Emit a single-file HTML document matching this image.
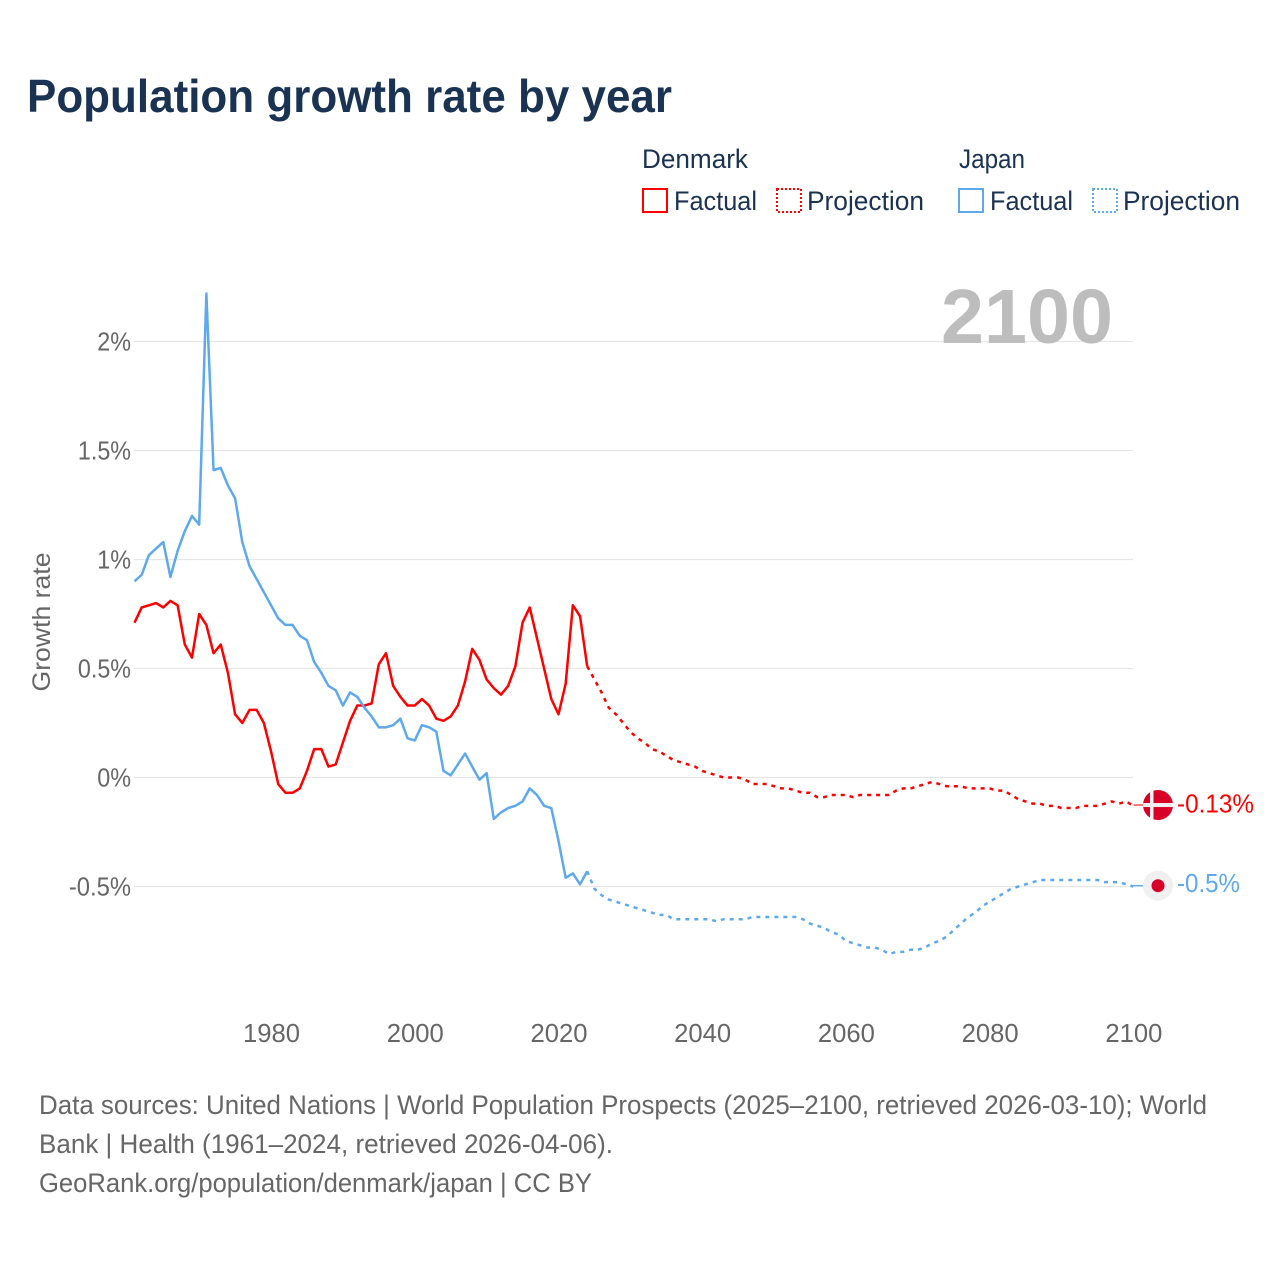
<!DOCTYPE html>
<html lang="en">
<head>
<meta charset="utf-8">
<title>Population growth rate by year</title>
<style>
html,body{margin:0;padding:0;background:#fff;}
svg{display:block;font-family:"Liberation Sans",sans-serif;}
</style>
</head>
<body>
<svg id="chart" width="1280" height="1280" viewBox="0 0 1280 1280" xmlns="http://www.w3.org/2000/svg">
<rect x="0" y="0" width="1280" height="1280" fill="#fff"/>
<text x="27" y="112" font-size="46" font-weight="700" fill="#1a3353" textLength="645" lengthAdjust="spacingAndGlyphs">Population growth rate by year</text>

<g font-size="27" fill="#1a3353">
<text x="642" y="168" textLength="106" lengthAdjust="spacingAndGlyphs">Denmark</text>
<text x="959" y="168" textLength="66" lengthAdjust="spacingAndGlyphs">Japan</text>
<rect x="643" y="189" width="24" height="23" fill="none" stroke="#ff0000" stroke-width="2"/>
<text x="674" y="210" textLength="83" lengthAdjust="spacingAndGlyphs">Factual</text>
<rect x="777" y="189" width="24" height="23" fill="none" stroke="#ff0000" stroke-width="2" stroke-dasharray="2 2"/>
<text x="807" y="210" textLength="117" lengthAdjust="spacingAndGlyphs">Projection</text>
<rect x="959" y="189" width="24" height="23" fill="none" stroke="#5ea9ee" stroke-width="2"/>
<text x="990" y="210" textLength="83" lengthAdjust="spacingAndGlyphs">Factual</text>
<rect x="1093" y="189" width="24" height="23" fill="none" stroke="#5ea9ee" stroke-width="2" stroke-dasharray="2 2"/>
<text x="1123" y="210" textLength="117" lengthAdjust="spacingAndGlyphs">Projection</text>
</g>

<g id="grid"></g>
<g id="yticks"></g>
<g id="xticks"></g>
<text transform="translate(50,622) rotate(-90)" text-anchor="middle" font-size="25" fill="#666" textLength="139" lengthAdjust="spacingAndGlyphs">Growth rate</text>
<text x="941" y="343" font-size="77" font-weight="700" fill="#bdbdbd" textLength="172" lengthAdjust="spacingAndGlyphs">2100</text>

<g id="series"></g>
<g id="markers"></g>

<g font-size="27" fill="#666">
<text x="39" y="1114" textLength="1168" lengthAdjust="spacingAndGlyphs">Data sources: United Nations | World Population Prospects (2025–2100, retrieved 2026-03-10); World</text>
<text x="39" y="1153" textLength="574" lengthAdjust="spacingAndGlyphs">Bank | Health (1961–2024, retrieved 2026-04-06).</text>
<text x="39" y="1192" textLength="553" lengthAdjust="spacingAndGlyphs">GeoRank.org/population/denmark/japan | CC BY</text>
</g>
</svg>

<script>
const factualStartYear = 1961;
const projectionStartYear = 2024;
const yTickValues = [2, 1.5, 1, 0.5, 0, -0.5];
const yTickLabels = ["2%", "1.5%", "1%", "0.5%", "0%", "-0.5%"];
const xTickYears = [1980, 2000, 2020, 2040, 2060, 2080, 2100];

const denmarkFactual = [0.71,0.78,0.79,0.80,0.78,0.81,0.79,0.61,0.55,0.75,0.70,0.57,0.61,0.48,0.29,0.25,0.31,0.31,0.25,0.12,-0.03,-0.07,-0.07,-0.05,0.03,0.13,0.13,0.05,0.06,0.16,0.26,0.33,0.33,0.34,0.52,0.57,0.42,0.37,0.33,0.33,0.36,0.33,0.27,0.26,0.28,0.33,0.44,0.59,0.54,0.45,0.41,0.38,0.42,0.51,0.71,0.78,0.64,0.50,0.36,0.29,0.43,0.79,0.74,0.51];
const denmarkProjection = [
  0.51,0.45,0.39,0.32,0.29,0.25,
  0.21,0.18,0.16,0.13,0.12,0.10,0.08,0.07,0.06,0.05,
  0.03,0.02,0.01,0.00,0.00,0.00,-0.01,-0.03,-0.03,-0.03,
  -0.04,-0.05,-0.05,-0.06,-0.07,-0.07,-0.09,-0.09,-0.08,-0.08,
  -0.08,-0.09,-0.08,-0.08,-0.08,-0.08,-0.08,-0.06,-0.05,-0.05,
  -0.04,-0.03,-0.02,-0.03,-0.04,-0.04,-0.04,-0.05,-0.05,-0.05,
  -0.05,-0.06,-0.06,-0.08,-0.10,-0.11,-0.12,-0.12,-0.13,-0.13,
  -0.14,-0.14,-0.14,-0.13,-0.13,-0.13,-0.12,-0.11,-0.12,-0.11,
  -0.13
];
const japanFactual = [0.90,0.93,1.02,1.05,1.08,0.92,1.04,1.13,1.20,1.16,2.22,1.41,1.42,1.34,1.28,1.08,0.97,0.91,0.85,0.79,0.73,0.70,0.70,0.65,0.63,0.53,0.48,0.42,0.40,0.33,0.39,0.37,0.32,0.28,0.23,0.23,0.24,0.27,0.18,0.17,0.24,0.23,0.21,0.03,0.01,0.06,0.11,0.05,-0.01,0.02,-0.19,-0.16,-0.14,-0.13,-0.11,-0.05,-0.08,-0.13,-0.14,-0.29,-0.46,-0.44,-0.49,-0.43];
const japanProjection = [
  -0.43,-0.51,-0.54,-0.56,-0.57,-0.58,
  -0.59,-0.60,-0.61,-0.62,-0.63,-0.63,-0.65,-0.65,-0.65,-0.65,
  -0.65,-0.65,-0.66,-0.65,-0.65,-0.65,-0.65,-0.64,-0.64,-0.64,
  -0.64,-0.64,-0.64,-0.64,-0.65,-0.67,-0.68,-0.69,-0.71,-0.72,
  -0.75,-0.76,-0.77,-0.78,-0.78,-0.79,-0.81,-0.80,-0.80,-0.79,
  -0.79,-0.78,-0.76,-0.75,-0.73,-0.70,-0.67,-0.64,-0.62,-0.59,
  -0.57,-0.55,-0.53,-0.51,-0.50,-0.49,-0.48,-0.47,-0.47,-0.47,
  -0.47,-0.47,-0.47,-0.47,-0.47,-0.47,-0.48,-0.48,-0.48,-0.49,
  -0.50
];

const denmarkColor = "#ff0000";
const japanColor = "#5ea9ee";
const svgNS = "http://www.w3.org/2000/svg";

function xScale(year) { return 134.5 + (year - 1961) * 7.186; }
function yScale(value) { return 777.5 - value * 218; }

function make(tag, attrs, parent) {
  const el = document.createElementNS(svgNS, tag);
  for (const k in attrs) el.setAttribute(k, attrs[k]);
  parent.appendChild(el);
  return el;
}
function labelWidth(s) {
  let w = 0;
  for (const c of s) w += c === "%" ? 19.5 : c === "." ? 5 : c === "-" ? 9 : 14.3;
  return w;
}
function linePoints(startYear, values) {
  return values.map((v, i) => xScale(startYear + i).toFixed(2) + "," + yScale(v).toFixed(2)).join(" ");
}

const gridGroup = document.getElementById("grid");
const yGroup = document.getElementById("yticks");
yTickValues.forEach((v, i) => {
  const line = make("line", {x1: 134, x2: 1133, y1: yScale(v), y2: yScale(v), stroke: "#e6e6e6", "stroke-width": 1.2}, gridGroup);
  
  
  const t = make("text", {x: 131, y: yScale(v) + 9, "text-anchor": "end", "font-size": 25.5, fill: "#666", textLength: labelWidth(yTickLabels[i]), lengthAdjust: "spacingAndGlyphs"}, yGroup);
  
  
  t.textContent = yTickLabels[i];
});

const xGroup = document.getElementById("xticks");
xTickYears.forEach((yr) => {
  const t = make("text", {x: xScale(yr) + 0.5, y: 1042, "text-anchor": "middle", "font-size": 25.5, fill: "#666", textLength: 57, lengthAdjust: "spacingAndGlyphs"}, xGroup);
  
  
  t.textContent = String(yr);
});

const seriesGroup = document.getElementById("series");
function drawSeries(name, startYear, values, color, dashed) {
  const attrs = {points: linePoints(startYear, values), fill: "none", stroke: color, "stroke-width": 2.5, "stroke-linejoin": "round"};
  if (dashed) attrs["stroke-dasharray"] = "4 5";
  const line = make("polyline", attrs, seriesGroup);
  
  
}
drawSeries("denmark-factual-line", factualStartYear, denmarkFactual, denmarkColor, false);
drawSeries("japan-factual-line", factualStartYear, japanFactual, japanColor, false);
drawSeries("denmark-projection-line", projectionStartYear, denmarkProjection, denmarkColor, true);
drawSeries("japan-projection-line", projectionStartYear, japanProjection, japanColor, true);

const markerGroup = document.getElementById("markers");
const markerX = 1158;
function endLabel(v) { return (Math.round(v * 100) / 100) + "%"; }

const dkLast = denmarkProjection[denmarkProjection.length - 1];
const jpLast = japanProjection[japanProjection.length - 1];
const dkY = yScale(dkLast) - 0.8;
const jpY = yScale(jpLast) - 0.8;

const dkConn = make("line", {x1: 1133.5, x2: 1144, y1: dkY, y2: dkY, stroke: denmarkColor, "stroke-width": 1.5, opacity: 0.7}, markerGroup);


const jpConn = make("line", {x1: 1133.5, x2: 1144, y1: jpY, y2: jpY, stroke: japanColor, "stroke-width": 1.5}, markerGroup);



const dkFlag = make("circle", {cx: markerX, cy: dkY, r: 15, fill: "#d80027"}, markerGroup);


const dkBarH = make("rect", {x: markerX - 15, y: dkY - 2, width: 30, height: 4, fill: "#f0f0f0"}, markerGroup);


const dkBarV = make("rect", {x: markerX - 8, y: dkY - 15, width: 3.5, height: 30, fill: "#f0f0f0"}, markerGroup);



const jpFlag = make("circle", {cx: markerX, cy: jpY, r: 15, fill: "#f0f0f0"}, markerGroup);


const jpDot = make("circle", {cx: markerX, cy: jpY, r: 6.5, fill: "#d80027"}, markerGroup);



const dkLabel = make("text", {x: 1177, y: dkY + 7.5, "font-size": 25.5, fill: denmarkColor, textLength: 77, lengthAdjust: "spacingAndGlyphs"}, markerGroup);


dkLabel.textContent = endLabel(dkLast);
const jpLabel = make("text", {x: 1177, y: jpY + 6.5, "font-size": 25.5, fill: japanColor, textLength: 63, lengthAdjust: "spacingAndGlyphs"}, markerGroup);


jpLabel.textContent = endLabel(jpLast);
</script>
</body>
</html>
